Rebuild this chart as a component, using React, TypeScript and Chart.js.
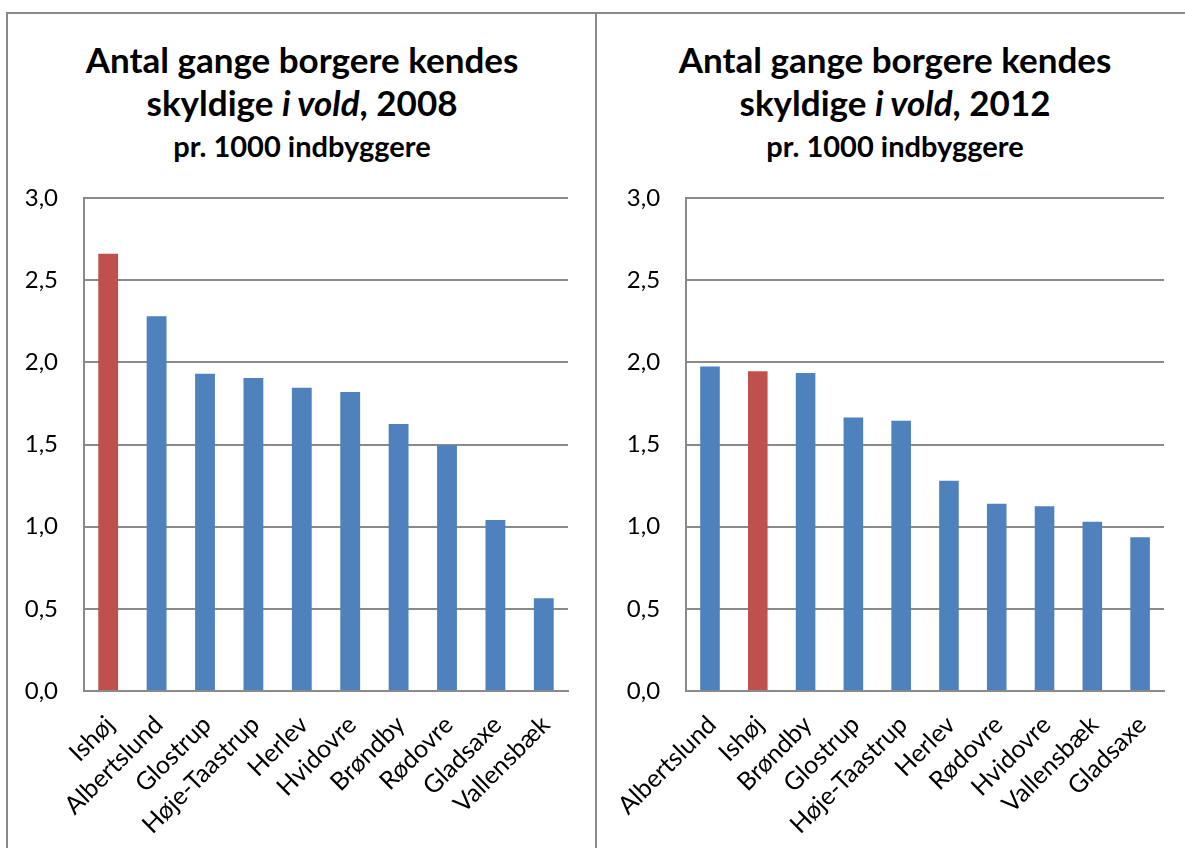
import React, { useEffect, useRef } from "react";
import { Chart, registerables } from "chart.js";

Chart.register(...registerables);

const categories2008 = ["Ishøj", "Albertslund", "Glostrup", "Høje-Taastrup", "Herlev", "Hvidovre", "Brøndby", "Rødovre", "Gladsaxe", "Vallensbæk"];
const values2008 = [2.66, 2.28, 1.93, 1.905, 1.845, 1.82, 1.625, 1.495, 1.04, 0.565];
const categories2012 = ["Albertslund", "Ishøj", "Brøndby", "Glostrup", "Høje-Taastrup", "Herlev", "Rødovre", "Hvidovre", "Vallensbæk", "Gladsaxe"];
const values2012 = [1.975, 1.945, 1.935, 1.665, 1.645, 1.28, 1.14, 1.125, 1.03, 0.935];
const yMin = 0;
const yMax = 3;
const yStep = 0.5;
const highlighted = "Ishøj";

const BLUE = "#4F81BD";
const RED = "#C0504D";
const GRID = "#8a8a8a";
const FONT = "Lato, 'Open Sans', sans-serif";

type BarProps = {
  labels: string[];
  values: number[];
  left: number;
  top: number;
  width: number;
  height: number;
  yAxisWidth: number;
  padTop: number;
  padRight: number;
  xAxisHeight: number;
};

function BarChart(p: BarProps) {
  const ref = useRef<HTMLCanvasElement | null>(null);
  useEffect(() => {
    if (!ref.current) return;
    const colors = p.labels.map((l) => (l === highlighted ? RED : BLUE));
    const chart = new Chart(ref.current, {
      type: "bar",
      data: {
        labels: p.labels,
        datasets: [
          {
            data: p.values,
            backgroundColor: colors,
            borderWidth: 0,
            categoryPercentage: 1,
            barPercentage: 0.41,
          },
        ],
      },
      options: {
        animation: false,
        responsive: false,
        maintainAspectRatio: false,
        layout: { padding: { top: p.padTop, right: p.padRight, left: 0, bottom: 0 } },
        plugins: { legend: { display: false }, title: { display: false }, tooltip: { enabled: false } },
        scales: {
          x: {
            grid: { display: false, drawTicks: false },
            border: { display: true, color: GRID, width: 2 },
            ticks: {
              color: "#000",
              font: { family: FONT, size: 25 },
              minRotation: 45,
              maxRotation: 45,
              autoSkip: false,
              padding: 19,
              labelOffset: 2,
            },
            afterFit: (s: any) => {
              s.height = p.xAxisHeight;
            },
          },
          y: {
            min: yMin,
            max: yMax,
            grid: { color: GRID, lineWidth: 2, drawTicks: false },
            border: { display: true, color: GRID, width: 2 },
            ticks: {
              stepSize: yStep,
              color: "#000",
              font: { family: FONT, size: 24 },
              padding: 26,
              callback: (v: any) => Number(v).toFixed(1).replace(".", ","),
            },
            afterFit: (s: any) => {
              s.width = p.yAxisWidth;
            },
          },
        },
      },
    });
    return () => chart.destroy();
  }, []);
  return (
    <canvas
      ref={ref}
      width={p.width}
      height={p.height}
      style={{ position: "absolute", left: p.left, top: p.top, width: p.width, height: p.height }}
    />
  );
}

function Title({ center, year }: { center: number; year: string }) {
  const base: React.CSSProperties = {
    position: "absolute",
    left: center - 290,
    width: 580,
    textAlign: "center",
    fontFamily: FONT,
    fontWeight: 700,
    color: "#000",
    whiteSpace: "nowrap",
  };
  return (
    <>
      <div style={{ ...base, top: 37, fontSize: 35, lineHeight: "44px" }}>Antal gange borgere kendes</div>
      <div style={{ ...base, top: 80, fontSize: 35, lineHeight: "44px" }}>
        skyldige <i>i vold</i>, {year}
      </div>
      <div style={{ ...base, top: 128, fontSize: 29, lineHeight: "36px" }}>pr. 1000 indbyggere</div>
    </>
  );
}

export default function App() {
  return (
    <div
      style={{
        position: "fixed",
        left: 0,
        top: 0,
        width: 1185,
        height: 848,
        overflow: "hidden",
        background: "#fff",
        fontFamily: FONT,
      }}
    >
      <div
        style={{
          position: "absolute",
          left: 6,
          top: 12,
          width: 591,
          height: 900,
          boxSizing: "border-box",
          borderLeft: `2px solid ${GRID}`,
          borderTop: `2px solid ${GRID}`,
          borderRight: `2px solid ${GRID}`,
        }}
      />
      <div
        style={{
          position: "absolute",
          left: 595,
          top: 12,
          width: 700,
          height: 900,
          boxSizing: "border-box",
          borderTop: `2px solid ${GRID}`,
        }}
      />
      <Title center={302} year="2008" />
      <Title center={895} year="2012" />
      <BarChart
        labels={categories2008}
        values={values2008}
        left={8}
        top={14}
        width={586}
        height={834}
        yAxisWidth={76}
        padTop={184}
        padRight={26}
        xAxisHeight={157}
      />
      <BarChart
        labels={categories2012}
        values={values2012}
        left={597}
        top={14}
        width={588}
        height={834}
        yAxisWidth={89}
        padTop={184}
        padRight={21}
        xAxisHeight={157}
      />
    </div>
  );
}
